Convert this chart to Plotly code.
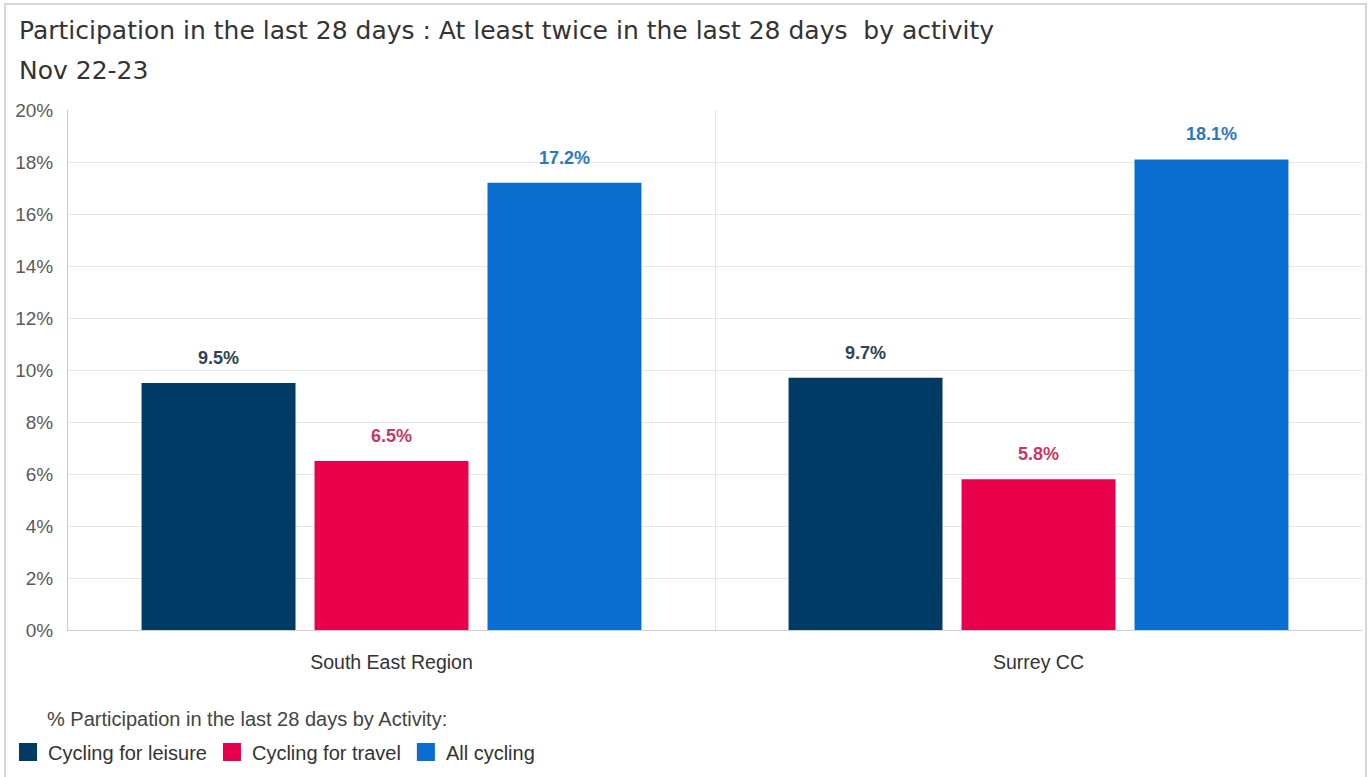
import plotly.graph_objects as go

# Participation data (share of adults, %)
regions = ["South East Region", "Surrey CC"]
series_names = ["Cycling for leisure", "Cycling for travel", "All cycling"]
leisure = [9.5, 9.7]
travel = [6.5, 5.8]
all_cycling = [17.2, 18.1]

bar_colors = ["#003B66", "#E8004C", "#0A6ED1"]
label_colors = ["#2F4257", "#C8366A", "#2A78C2"]

y_ticks = [0, 2, 4, 6, 8, 10, 12, 14, 16, 18, 20]

W, H = 1372, 777
L, R, T, B = 68, 10, 110, 147
plot_w = W - L - R
plot_h = H - T - B

BARGAP = 0.198
BARGROUPGAP = 0.11


def px_x(px):
    return (px - L) / plot_w


def px_y(py):
    return (H - B - py) / plot_h


series = [leisure, travel, all_cycling]

fig = go.Figure()
for name, vals, col in zip(series_names, series, bar_colors):
    fig.add_trace(go.Bar(
        name=name,
        x=regions,
        y=vals,
        marker=dict(color=col, line=dict(width=0)),
        legendgroup=name,
        showlegend=False,
        hoverinfo="skip",
    ))

# legend keys: larger square swatches for each series
for name, col in zip(series_names, bar_colors):
    fig.add_trace(go.Scatter(
        name=name,
        x=[None], y=[None],
        mode="markers",
        marker=dict(symbol="square", size=16, color=col, line=dict(width=2, color=col)),
        legendgroup=name,
        showlegend=True,
        hoverinfo="skip",
    ))

# value labels above each bar, shifted sideways to the bar's slot in the group
band_px = plot_w / len(regions)
slot_px = band_px * (1 - BARGAP) / len(series)
annotations = []
for i, (vals, lcol) in enumerate(zip(series, label_colors)):
    for region, v in zip(regions, vals):
        annotations.append(dict(
            x=region, y=v, xref="x", yref="y",
            xshift=(i - (len(series) - 1) / 2) * slot_px,
            yshift=25, xanchor="center", yanchor="middle",
            text=f"<b>{v:.1f}%</b>", showarrow=False,
            font=dict(family="Liberation Sans, Arial", size=18, color=lcol),
        ))

annotations += [
    dict(
        text="Participation in the last 28 days : At least twice in the last 28 days  by activity",
        xref="paper", yref="paper", x=px_x(17), y=px_y(30),
        xanchor="left", yanchor="middle", showarrow=False,
        font=dict(family="DejaVu Sans", size=25, color="#333333"),
    ),
    dict(
        text="Nov 22-23",
        xref="paper", yref="paper", x=px_x(17), y=px_y(70),
        xanchor="left", yanchor="middle", showarrow=False,
        font=dict(family="DejaVu Sans", size=25, color="#333333"),
    ),
    dict(
        text="% Participation in the last 28 days by Activity:",
        xref="paper", yref="paper", x=px_x(45), y=px_y(719),
        xanchor="left", yanchor="middle", showarrow=False,
        font=dict(family="Liberation Sans, Arial", size=20, color="#444444"),
    ),
]

fig.update_layout(
    width=W,
    height=H,
    margin=dict(l=L, r=R, t=T, b=B),
    paper_bgcolor="white",
    plot_bgcolor="white",
    barmode="group",
    bargap=BARGAP,
    bargroupgap=BARGROUPGAP,
    showlegend=True,
    legend=dict(
        orientation="h",
        xref="container",
        yref="container",
        x=8 / W,
        y=1 - 752 / H,
        xanchor="left",
        yanchor="middle",
        font=dict(family="Liberation Sans, Arial", size=20, color="#333333"),
        itemwidth=30,
        traceorder="normal",
        bgcolor="rgba(0,0,0,0)",
    ),
    xaxis=dict(
        type="category",
        showgrid=True,
        gridcolor="#E3E3E3",
        gridwidth=1,
        tickson="boundaries",
        ticks="",
        showline=True,
        linecolor="#D0D0D0",
        linewidth=1,
        tickfont=dict(family="Liberation Sans, Arial", size=19.5, color="#333333"),
        ticklabelstandoff=15,
        zeroline=False,
        automargin=False,
    ),
    yaxis=dict(
        range=[0, 20],
        tickvals=y_ticks,
        ticktext=[f"{v}%" for v in y_ticks],
        showgrid=True,
        gridcolor="#E6E6E6",
        gridwidth=1,
        showline=True,
        linecolor="#C8C8C8",
        linewidth=1,
        ticks="",
        ticklabelstandoff=10,
        tickfont=dict(family="Liberation Sans, Arial", size=19, color="#5A5A5A"),
        zeroline=False,
        automargin=False,
    ),
    annotations=annotations,
    shapes=[
        # outer frame around the chart card
        dict(type="rect", xref="paper", yref="paper",
             x0=px_x(5), x1=px_x(1366), y0=px_y(800), y1=px_y(4),
             line=dict(color="#D6D6D6", width=2), fillcolor="rgba(0,0,0,0)", layer="below"),
    ],
)

fig.write_html("out.html")
